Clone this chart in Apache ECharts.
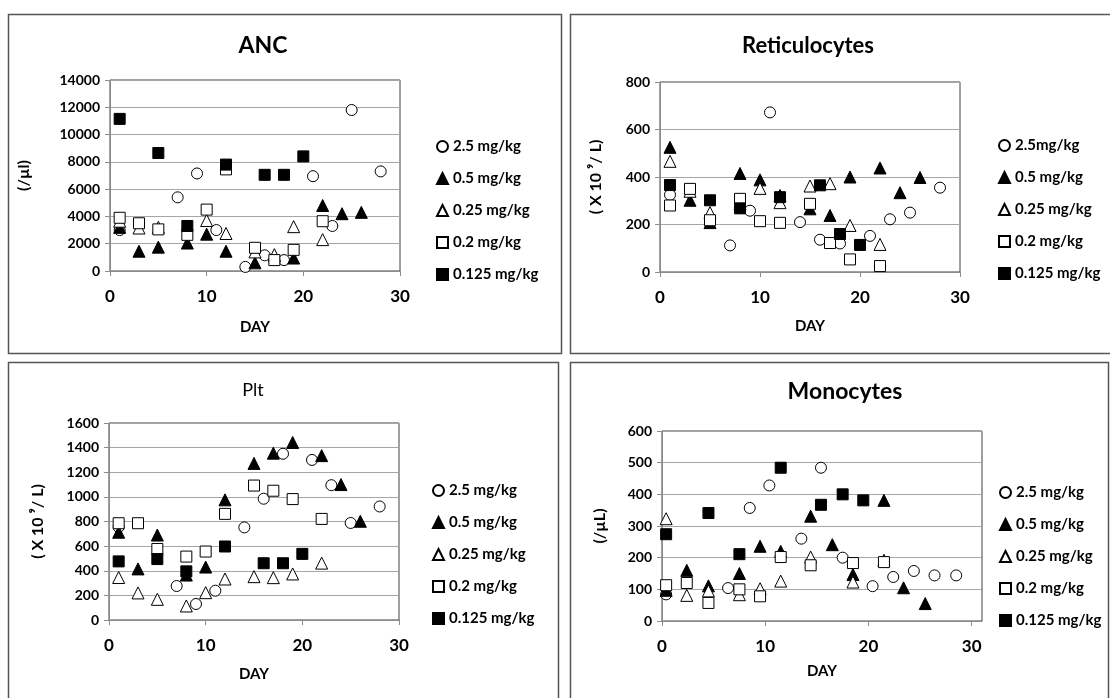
<!DOCTYPE html>
<html>
<head>
<meta charset="utf-8">
<script src="https://cdn.jsdelivr.net/npm/echarts@6/dist/echarts.min.js"></script>
<style>
html,body{margin:0;padding:0;background:#fff;}
#chart{width:1110px;height:698px;}
</style>
</head>
<body>
<div id="chart"></div>
<script>
// ---------- DATA ----------
const SERIES_NAMES = ['2.5 mg/kg','0.5 mg/kg','0.25 mg/kg','0.2 mg/kg','0.125 mg/kg'];
const RET_NAMES = ['2.5mg/kg','0.5 mg/kg','0.25 mg/kg','0.2 mg/kg','0.125 mg/kg'];
const PANEL_TITLES = ['ANC','Reticulocytes','Plt','Monocytes'];
const Y_NAMES = ['(/\u00b5l)','( X 10 \u2079/ L)','( X 10 \u2079/ L)','(/\u00b5L)'];
const X_NAME = 'DAY';

// ANC
const ANC_25   = [[1,3000],[7,5400],[9,7150],[11,3000],[14,300],[16,1150],[18,800],[21,6950],[23,3300],[25,11800],[28,7300]];
const ANC_05   = [[1,3200],[3,1450],[5,1750],[8,2050],[10,2700],[12,1450],[15,600],[17,1100],[19,950],[22,4800],[24,4200],[26,4300]];
const ANC_025  = [[1,3650],[3,3150],[5,3200],[10,3700],[12,2750],[15,1400],[17,1200],[19,3250],[22,2300]];
const ANC_02   = [[1,3900],[3,3500],[5,3050],[8,2650],[10,4500],[12,7450],[15,1700],[17,800],[19,1550],[22,3650]];
const ANC_0125 = [[1,11150],[5,8650],[8,3300],[12,7800],[16,7050],[18,7050],[20,8400]];

// Reticulocytes
const RET_25   = [[1,325],[7,112],[9,258],[11,672],[14,210],[16,136],[18,120],[21,152],[23,222],[25,250],[28,355]];
const RET_05   = [[1,525],[3,302],[5,208],[8,415],[10,388],[12,322],[15,266],[17,238],[19,400],[22,438],[24,334],[26,398]];
const RET_025  = [[1,466],[3,340],[5,250],[8,287],[10,352],[12,292],[15,362],[17,372],[19,196],[22,116]];
const RET_02   = [[1,280],[3,350],[5,218],[8,308],[10,214],[12,207],[15,287],[17,122],[19,53],[22,25]];
const RET_0125 = [[1,366],[5,302],[8,268],[12,315],[16,365],[18,160],[20,114]];

// Plt
const PLT_25   = [[1,755],[7,276],[9,130],[11,238],[14,752],[16,985],[18,1350],[21,1300],[23,1095],[25,788],[28,922]];
const PLT_05   = [[1,713],[3,415],[5,690],[8,365],[10,430],[12,976],[15,1272],[17,1355],[19,1442],[22,1335],[24,1100],[26,802]];
const PLT_025  = [[1,345],[3,220],[5,168],[8,114],[10,222],[12,333],[15,352],[17,344],[19,374],[22,462]];
const PLT_02   = [[1,786],[3,786],[5,577],[8,515],[10,556],[12,862],[15,1092],[17,1050],[19,982],[22,821]];
const PLT_0125 = [[1,476],[5,495],[8,395],[12,597],[16,461],[18,461],[20,537]];

// Monocytes
const MON_25   = [[0.4,84],[6.4,104],[8.5,357],[10.4,428],[13.5,260],[15.4,484],[17.5,200],[20.4,110],[22.4,139],[24.4,158],[26.4,144],[28.5,144]];
const MON_05   = [[0.4,97],[2.4,160],[4.5,111],[7.5,150],[9.5,236],[11.5,220],[14.4,331],[16.5,241],[18.5,147],[21.5,381],[23.4,105],[25.5,55]];
const MON_025  = [[0.4,323],[2.4,81],[4.5,95],[7.5,83],[9.5,102],[11.5,126],[14.4,202],[18.5,123],[21.5,192]];
const MON_02   = [[0.4,113],[2.4,120],[4.5,57],[7.5,100],[9.5,78],[11.5,202],[14.4,176],[18.5,183],[21.5,186]];
const MON_0125 = [[0.4,274],[4.5,341],[7.5,211],[11.5,484],[15.4,367],[17.5,400],[19.5,381]];

const Y_MAX = [14000, 800, 1600, 600];
const Y_INTERVAL = [2000, 200, 200, 100];
const X_MAX = [30, 30, 30, 31];

// ---------- STYLE / LAYOUT ----------
const FONT = 'Lato, "DejaVu Sans", sans-serif';
const MARKERS = [
  {symbol:'circle',   color:'#ffffff', border:'#000000'},
  {symbol:'triangle', color:'#000000', border:'#000000'},
  {symbol:'triangle', color:'#ffffff', border:'#000000'},
  {symbol:'rect',     color:'#ffffff', border:'#000000'},
  {symbol:'rect',     color:'#000000', border:'#000000'}
];
const GRIDS = [
  {left:110, top:80,  width:290, height:191},
  {left:660, top:82,  width:300, height:190},
  {left:109, top:423, width:290, height:197},
  {left:662, top:431, width:320, height:190}
];
const Y_NAME_GAP = [78, 56, 63, 54];
const X_NAME_GAP = [49, 47, 47, 43];
const LEGEND_POS = [[436,139],[998,138],[432,483],[999,485]];
const TITLE_POS = [[263,46,23,'bold'],[808,46,22,'bold'],[253,390,18,'normal'],[845,392,23,'bold']];

const panelData = [
  [ANC_25, ANC_05, ANC_025, ANC_02, ANC_0125],
  [RET_25, RET_05, RET_025, RET_02, RET_0125],
  [PLT_25, PLT_05, PLT_025, PLT_02, PLT_0125],
  [MON_25, MON_05, MON_025, MON_02, MON_0125]
];

const grid = GRIDS.map(g => Object.assign({show:true, borderColor:'#404040', borderWidth:1, backgroundColor:'transparent'}, g));

const xAxis = GRIDS.map((g,i) => ({
  type:'value', gridIndex:i, min:0, max:X_MAX[i], interval:10,
  name:X_NAME, nameLocation:'middle', nameGap:X_NAME_GAP[i],
  nameTextStyle:{fontFamily:FONT, fontSize:15, fontWeight:'bold', color:'#000'},
  axisLine:{show:true, onZero:false, lineStyle:{color:'#8c8c8c', width:1}},
  axisTick:{show:true, inside:false, length:5, lineStyle:{color:'#8c8c8c'}},
  axisLabel:{fontFamily:FONT, fontSize:17, fontWeight:'bold', color:'#000', margin:17, showMaxLabel: X_MAX[i] === 30,
    formatter: v => String(v)},
  splitLine:{show:false}
}));

const yAxis = GRIDS.map((g,i) => ({
  type:'value', gridIndex:i, min:0, max:Y_MAX[i], interval:Y_INTERVAL[i],
  name:Y_NAMES[i], nameLocation:'middle', nameRotate:90, nameGap:Y_NAME_GAP[i],
  nameTextStyle:{fontFamily:FONT, fontSize:16, fontWeight:'bold', color:'#000'},
  axisLine:{show:true, lineStyle:{color:'#8c8c8c', width:1}},
  axisTick:{show:true, inside:false, length:5, lineStyle:{color:'#8c8c8c'}},
  axisLabel:{fontFamily:FONT, fontSize:14, fontWeight:'bold', color:'#000', margin:10,
    formatter: v => String(v)},
  splitLine:{show:true, lineStyle:{color:'#a6a6a6', width:1}}
}));

const series = [];
panelData.forEach((arrs, p) => {
  const names = p === 1 ? RET_NAMES : SERIES_NAMES;
  arrs.forEach((arr, k) => {
    const m = MARKERS[k];
    series.push({
      type:'scatter', name:names[k], xAxisIndex:p, yAxisIndex:p,
      data:arr, symbol:m.symbol, symbolSize: m.symbol === 'triangle' ? 12 : 11,
      itemStyle:{color:m.color, borderColor:m.border, borderWidth:1, opacity:1},
      emphasis:{disabled:true}, z: 2 + k
    });
  });
});

const legend = LEGEND_POS.map((pos, p) => ({
  orient:'vertical', left:pos[0], top:pos[1], padding:0,
  itemWidth:11, itemHeight:11, itemGap:17,
  selectedMode:false,
  textStyle:{fontFamily:FONT, fontSize:15, fontWeight:'bold', color:'#000'},
  data:(p === 1 ? RET_NAMES : SERIES_NAMES).slice()
}));

const graphic = [
  {type:'rect', shape:{x:8.5, y:14.5, width:553, height:339}, style:{fill:'none', stroke:'#555', lineWidth:1.5}, silent:true},
  {type:'rect', shape:{x:570.5, y:14.5, width:560, height:339}, style:{fill:'none', stroke:'#555', lineWidth:1.5}, silent:true},
  {type:'rect', shape:{x:8.5, y:362.5, width:550, height:400}, style:{fill:'none', stroke:'#555', lineWidth:1.5}, silent:true},
  {type:'rect', shape:{x:570.5, y:362.5, width:538, height:400}, style:{fill:'none', stroke:'#555', lineWidth:1.5}, silent:true}
];
PANEL_TITLES.forEach((t, i) => {
  const tp = TITLE_POS[i];
  graphic.push({type:'text', x:tp[0], y:tp[1], silent:true,
    style:{text:t, fontFamily:FONT, fontSize:tp[2], fontWeight:tp[3], fill:'#000', align:'center', verticalAlign:'middle'}});
});

const chart = echarts.init(document.getElementById('chart'), null, {renderer:'canvas'});
chart.setOption({
  animation:false,
  backgroundColor:'#ffffff',
  grid, xAxis, yAxis, series, legend, graphic
});
</script>
</body>
</html>
